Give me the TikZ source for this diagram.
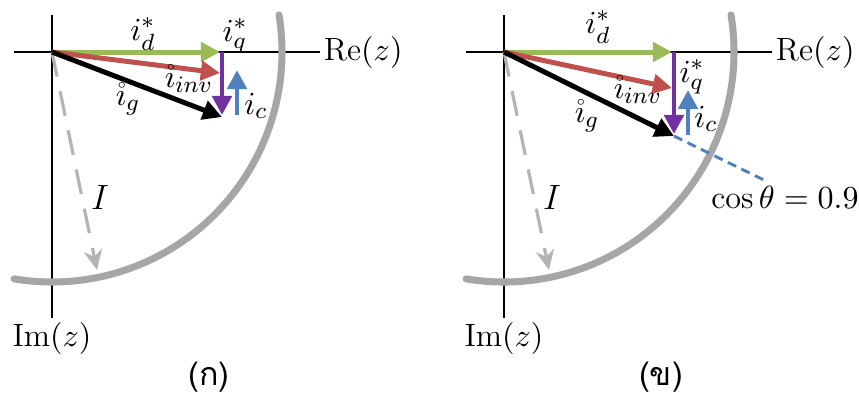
\documentclass[tikz,border=0pt]{standalone}
\usepackage{amsmath, amssymb}
\usepackage{fontspec}
\newfontfamily\thaifont[Script=Thai]{Loma}
\usetikzlibrary{arrows.meta, positioning}

\definecolor{idgreen}{RGB}{155,187,89}
\definecolor{invred}{RGB}{192,80,77}
\definecolor{iqpurple}{RGB}{112,48,160}
\definecolor{icblue}{RGB}{79,129,189}
\definecolor{arcgray}{RGB}{166,166,166}
\definecolor{dashgray}{RGB}{180,180,180}

\tikzset{
  vec/.style={line width=1.7pt, -{Triangle[length=2.3mm, width=2.3mm]}},
  axisline/.style={line width=0.7pt},
  limitarc/.style={line width=2.4pt, arcgray, line cap=round},
}

\begin{document}
\begin{tikzpicture}[x=0.12mm, y=0.12mm, font=\fontsize{11pt}{13pt}\selectfont]
  \useasboundingbox (0,0) rectangle (859,-397);

  % Phần chung của hai hình
  \foreach \ox/\plab/\p in {52/ก/a, 504/ข/b} {
    \begin{scope}[shift={(\ox,-52)}]
      \coordinate (O\p) at (0,0);
      % Vẽ hệ trục
      \draw[axisline] (-38,0) -- (268,0) node[right, inner sep=1pt] (re\p) {$\mathrm{Re}(z)$};
      \draw[axisline] (0,37) -- (0,-266) node[below, inner sep=1pt] (im\p) {$\mathrm{Im}(z)$};
      % Cung giới hạn
      \draw[limitarc] (9.3:27.6mm) arc[start angle=9.3, end angle=-99.5, radius=27.6mm];
      % Bán kính I
      \coordinate (Iend\p) at (45,-218);
      \draw[dashgray, line width=1.1pt, dash pattern=on 3mm off 1.8mm,
            -{Stealth[length=2.4mm, width=2.2mm]}] (O\p) -- (Iend\p);
      \node[font=\fontsize{13pt}{15pt}\selectfont] (I\p) at (48,-145) {$I$};
      % Tên hình
      \node[font=\thaifont\fontsize{11pt}{13pt}\selectfont] (cap\p) at (157,-325) {(\plab)};
    \end{scope}
  }

  % Hình (ก)
  \begin{scope}[shift={(52,-52)}]
    \coordinate (da) at (168,0);
    \coordinate (qa0) at (170,0);
    \coordinate (qa) at (170,-63);
    \coordinate (inva) at (168,-21);
    \coordinate (ga) at (170,-65);
    \coordinate (ca0) at (185,-63);
    \coordinate (ca) at (185,-18);
    \draw[vec, idgreen] (Oa) -- (da);
    \draw[vec, invred] (Oa) -- (inva);
    \draw[vec, black] (Oa) -- (ga);
    \draw[vec, iqpurple] (qa0) -- (qa);
    \draw[vec, icblue] (ca0) -- (ca);
    \node (lda) at (91,18) {$i_d^*$};
    \node (lqa) at (183,16) {$i_q^*$};
    \node (linva) at (137,-27) {$\mathring{\imath}_{inv}$};
    \node (lga) at (76,-47) {$\mathring{\imath}_g$};
    \node (lca) at (204,-54) {$i_c$};
  \end{scope}

  % Hình (ข)
  \begin{scope}[shift={(504,-52)}]
    \coordinate (db) at (168,0);
    \coordinate (qb0) at (170,0);
    \coordinate (qb) at (170,-82);
    \coordinate (invb) at (168,-36);
    \coordinate (gb) at (170,-84);
    \coordinate (cb0) at (184,-83);
    \coordinate (cb) at (184,-38);
    \coordinate (pfend) at (264,-130);
    \draw[icblue, line width=1pt, dash pattern=on 1.1mm off 0.7mm] (gb) -- (pfend);
    \draw[vec, idgreen] (Ob) -- (db);
    \draw[vec, invred] (Ob) -- (invb);
    \draw[vec, black] (Ob) -- (gb);
    \draw[vec, iqpurple] (qb0) -- (qb);
    \draw[vec, icblue] (cb0) -- (cb);
    \node (ldb) at (94,25) {$i_d^*$};
    \node (lqb) at (188,-25) {$i_q^*$};
    \node (linvb) at (134,-38) {$\mathring{\imath}_{inv}$};
    \node (lgb) at (83,-64) {$\mathring{\imath}_g$};
    \node (lcb) at (202,-67) {$i_c$};
    \node (cosb) at (281,-146) {$\cos\theta = 0.9$};
  \end{scope}
\end{tikzpicture}
\end{document}
